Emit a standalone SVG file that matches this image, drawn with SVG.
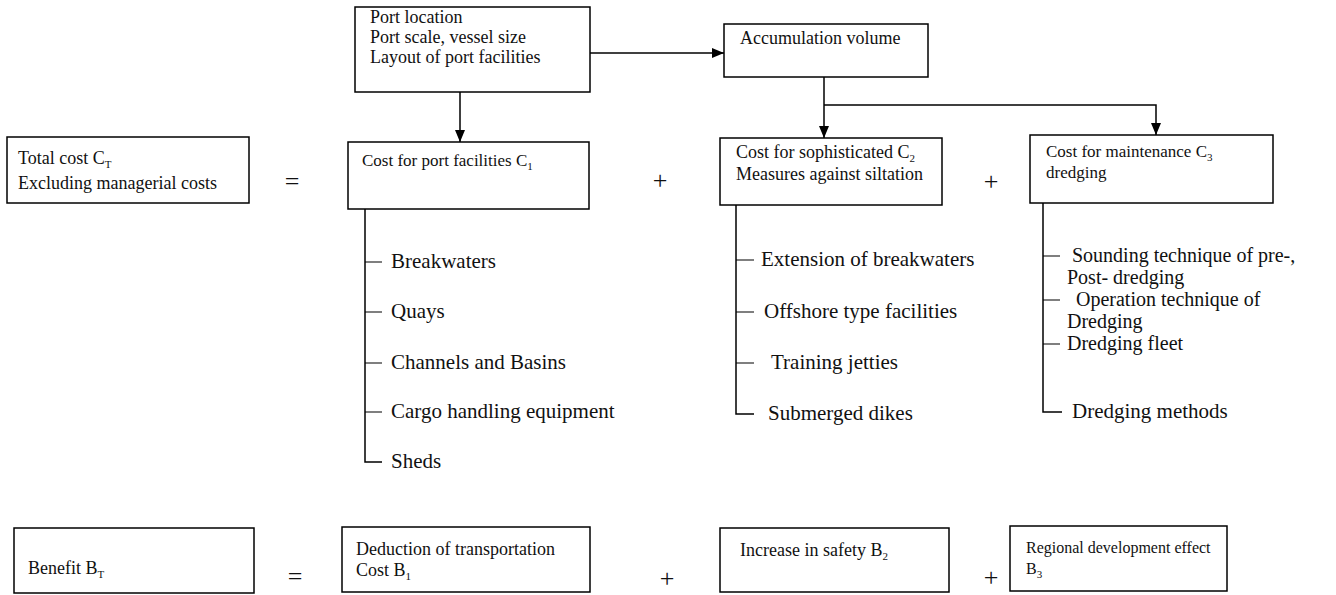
<svg xmlns="http://www.w3.org/2000/svg" width="1336" height="595" viewBox="0 0 1336 595">
<style>
  .box { fill: #fff; stroke: #000; stroke-width: 1.5; }
  .t { font-family: "Liberation Serif", "Times New Roman", serif; font-size: 18px; fill: #111; }
  .t17 { font-size: 17px; }
  .t16 { font-size: 16px; }
  .li { font-family: "Liberation Serif", "Times New Roman", serif; font-size: 21px; fill: #111; }
  .li20 { font-size: 20px; }
  .op { font-family: "Liberation Serif", "Times New Roman", serif; font-size: 26px; fill: #111; text-anchor: middle; }
  .sub { font-size: 11px; }
  .c { fill: none; stroke: #000; stroke-width: 1.5; }
  .tick { fill: none; stroke: #000; stroke-width: 1.2; }
</style>
<defs>
  <marker id="ah" markerUnits="userSpaceOnUse" markerWidth="12" markerHeight="10" refX="12" refY="5" orient="auto">
    <path d="M0,0 L12,5 L0,10 z" fill="#000"/>
  </marker>
</defs>
<rect width="1336" height="595" fill="#fff"/>

<g id="connectors">
  <path class="c" d="M460,92 V142" marker-end="url(#ah)"/>
  <path class="c" d="M590,53 H724" marker-end="url(#ah)"/>
  <path class="c" d="M824,77 V138" marker-end="url(#ah)"/>
  <path class="c" d="M824,105 H1156 V135" marker-end="url(#ah)"/>
  <path class="c" d="M365,209 V462 H382"/>
  <path class="tick" d="M365,262 H382 M365,312 H382 M365,363 H382 M365,412 H382"/>
  <path class="c" d="M736,205 V414 H754"/>
  <path class="tick" d="M736,260 H754 M736,312 H754 M736,363 H754"/>
  <path class="c" d="M1043,203 V412 H1062"/>
  <path class="tick" d="M1043,256 H1060 M1043,300 H1060 M1043,344 H1060"/>
</g>

<g id="node-top">
  <rect class="box" x="355" y="7" width="235" height="85"/>
  <text class="t" x="370" y="23">Port location</text>
  <text class="t" x="370" y="43">Port scale, vessel size</text>
  <text class="t" x="370" y="63">Layout of port facilities</text>
</g>

<g id="node-accum">
  <rect class="box" x="724" y="24" width="204" height="53"/>
  <text class="t" x="740" y="44">Accumulation volume</text>
</g>

<g id="node-total-cost">
  <rect class="box" x="7" y="137" width="242" height="66"/>
  <text class="t" x="18" y="164">Total cost C<tspan class="sub" dy="4">T</tspan></text>
  <text class="t" x="18" y="189">Excluding managerial costs</text>
</g>
<text class="op" x="292" y="190">=</text>

<g id="node-c1">
  <rect class="box" x="348" y="142" width="241" height="67"/>
  <text class="t t17" x="362" y="166">Cost for port facilities C<tspan class="sub" dy="4">1</tspan></text>
</g>
<text class="op" x="660" y="189">+</text>

<g id="node-c2">
  <rect class="box" x="720" y="138" width="222" height="67"/>
  <text class="t" x="736" y="158">Cost for sophisticated C<tspan class="sub" dy="4">2</tspan></text>
  <text class="t" x="736" y="180">Measures against siltation</text>
</g>
<text class="op" x="991" y="190">+</text>

<g id="node-c3">
  <rect class="box" x="1030" y="135" width="243" height="68"/>
  <text class="t t17" x="1046" y="157">Cost for maintenance C<tspan class="sub" dy="4">3</tspan></text>
  <text class="t t17" x="1046" y="178">dredging</text>
</g>

<g id="list-c1">
  <text class="li" x="391" y="268">Breakwaters</text>
  <text class="li" x="391" y="318">Quays</text>
  <text class="li" x="391" y="369">Channels and Basins</text>
  <text class="li" x="391" y="418">Cargo handling equipment</text>
  <text class="li" x="391" y="468">Sheds</text>
</g>

<g id="list-c2">
  <text class="li" x="761" y="266">Extension of breakwaters</text>
  <text class="li" x="764" y="318">Offshore type facilities</text>
  <text class="li" x="771" y="369">Training jetties</text>
  <text class="li" x="768" y="420">Submerged dikes</text>
</g>

<g id="list-c3">
  <text class="li li20" x="1072" y="262">Sounding technique of pre-,</text>
  <text class="li li20" x="1067" y="284">Post- dredging</text>
  <text class="li li20" x="1076" y="306">Operation technique of</text>
  <text class="li li20" x="1067" y="328">Dredging</text>
  <text class="li li20" x="1067" y="350">Dredging fleet</text>
  <text class="li" x="1072" y="418">Dredging methods</text>
</g>

<g id="node-benefit">
  <rect class="box" x="14" y="528" width="240" height="65"/>
  <text class="t" x="28" y="574">Benefit B<tspan class="sub" dy="4">T</tspan></text>
</g>
<text class="op" x="295" y="585">=</text>

<g id="node-b1">
  <rect class="box" x="342" y="527" width="248" height="65"/>
  <text class="t" x="356" y="555">Deduction of transportation</text>
  <text class="t" x="356" y="576">Cost B<tspan class="sub" dy="4">1</tspan></text>
</g>
<text class="op" x="667" y="587">+</text>

<g id="node-b2">
  <rect class="box" x="720" y="528" width="229" height="64"/>
  <text class="t" x="740" y="556">Increase in safety B<tspan class="sub" dy="4">2</tspan></text>
</g>
<text class="op" x="991" y="586">+</text>

<g id="node-b3">
  <rect class="box" x="1010" y="526" width="217" height="65"/>
  <text class="t t16" x="1026" y="553">Regional development effect</text>
  <text class="t t16" x="1026" y="574">B<tspan class="sub" dy="4">3</tspan></text>
</g>
</svg>
